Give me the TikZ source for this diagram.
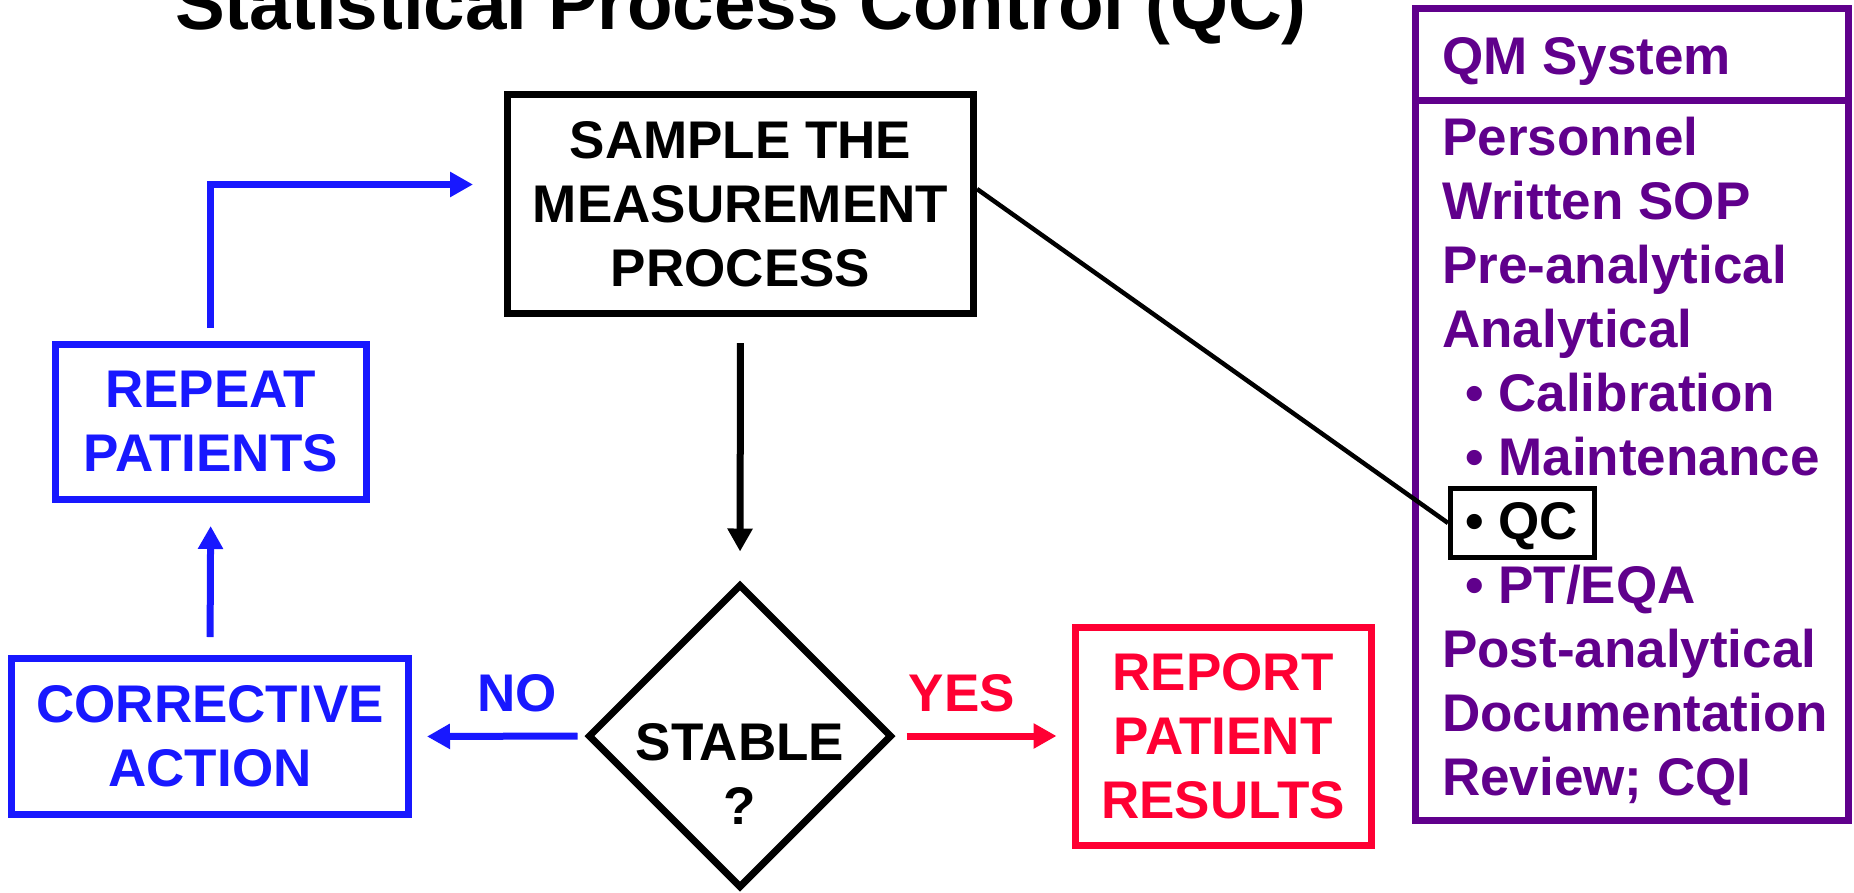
\documentclass[tikz,border=0pt]{standalone}
\usepackage{fontspec}
\setmainfont{Liberation Sans}
\usetikzlibrary{arrows.meta,shapes.geometric,calc}
\definecolor{qblue}{RGB}{24,24,255}
\definecolor{qred}{RGB}{255,0,51}
\definecolor{qpurple}{RGB}{96,0,140}
\begin{document}
\begin{tikzpicture}[x=1pt,y=-1pt,
  txt/.style={font=\fontsize{53}{64}\selectfont\bfseries, align=center},
  boxn/.style={draw, line width=7pt, inner sep=0pt, txt},
  arr/.style={line width=7pt, -{Triangle[length=23pt,width=24pt]}},
  qmline/.style={anchor=base west, inner sep=0pt, font=\fontsize{53}{64}\selectfont\bfseries, text=qpurple},
  ]
\useasboundingbox (0,0) rectangle (1854,892);
% title
\node[anchor=base, inner sep=0pt, font=\fontsize{74.6}{80}\selectfont\bfseries] (title) at (741,29) {Statistical Process Control (QC)};
% flow boxes
\node[boxn, minimum width=466pt, minimum height=219pt] (sample) at (740.5,204) {SAMPLE THE\\MEASUREMENT\\PROCESS};
\node[draw, diamond, aspect=1, minimum width=304pt, minimum height=304pt, inner sep=0pt, line width=7pt] (stable) at (740,736) {};
\node[txt] (stabletxt) at (740,774) {STABLE\\?};
\node[boxn, draw=qblue, text=qblue, minimum width=397pt, minimum height=156pt] (corrective) at (210,736.5) {CORRECTIVE\\ACTION};
\node[boxn, draw=qblue, text=qblue, minimum width=310.5pt, minimum height=155pt] (repeat) at (210.75,422) {REPEAT\\PATIENTS};
\node[boxn, draw=qred, text=qred, minimum width=296pt, minimum height=218pt] (report) at (1223,736) {REPORT\\PATIENT\\RESULTS};
% labels
\node[txt, text=qblue, anchor=base, inner sep=0pt] (nolab) at (517,711) {NO};
\node[txt, text=qred, anchor=base, inner sep=0pt] (yeslab) at (962,711) {YES};
% arrows
\draw[arr, shorten <=26pt, shorten >=29pt] (sample.south) -- (stable.north);
\draw[arr, qblue, shorten <=7pt, shorten >=15pt] (stable.west) -- (corrective.east);
\draw[arr, qred, shorten <=11pt, shorten >=15pt] (stable.east) -- (report.west);
\draw[arr, qblue, shorten <=18pt, shorten >=23pt] (corrective.north) -- (repeat.south);
\draw[arr, qblue, shorten <=13pt, shorten >=31pt] (repeat.north) |- ([yshift=19.5pt]sample.west);
% QM system box
\node[draw=qpurple, line width=7pt, minimum width=433.5pt, minimum height=812pt, inner sep=0pt] (qm) at (1631.75,414) {};
\coordinate (divl) at (1415,100);
\coordinate (divr) at (1848.5,100);
\draw[qpurple, line width=7pt] (divl) -- (divr);
\node[qmline] (l0) at (1442,74) {QM System};
\node[qmline] (l1) at (1442,155) {Personnel};
\node[qmline] (l2) at (1442,219) {Written SOP};
\node[qmline] (l3) at (1442,283) {Pre-analytical};
\node[qmline] (l4) at (1442,347) {Analytical};
\node[qmline] (l5) at (1465,411) {\textbullet\ Calibration};
\node[qmline] (l6) at (1465,475) {\textbullet\ Maintenance};
\node[qmline, text=black] (l7) at (1465,539) {\textbullet\ QC};
\node[qmline] (l8) at (1465,603) {\textbullet\ PT/EQA};
\node[qmline] (l9) at (1442,667) {Post-analytical};
\node[qmline] (l10) at (1442,731) {Documentation};
\node[qmline] (l11) at (1442,795) {Review; CQI};
% QC highlight box and link
\node[draw, line width=5pt, minimum width=144pt, minimum height=69pt, inner sep=0pt] (qc) at (1522.5,523) {};
\draw[line width=4.5pt] ([yshift=15pt]sample.east) -- (qc.west);
\end{tikzpicture}
\end{document}
